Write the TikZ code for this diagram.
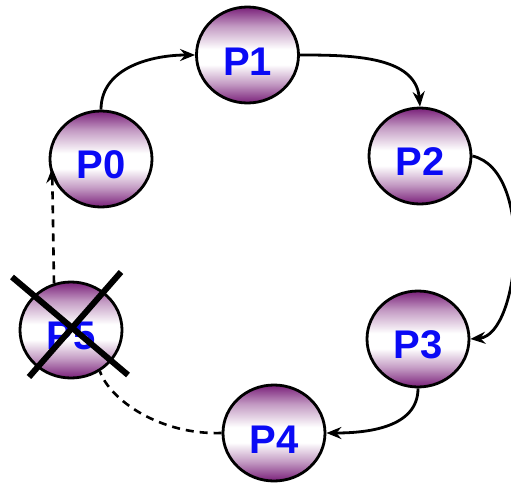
\documentclass[tikz,border=0pt]{standalone}
\usepackage{fontspec}
\setmainfont{Liberation Sans}
\usetikzlibrary{arrows.meta,shapes.geometric}
\definecolor{pp}{RGB}{122,32,122}
\definecolor{pblue}{RGB}{10,10,245}
\pgfdeclareverticalshading{procshade}{100bp}{color(0bp)=(pp); color(25bp)=(pp); color(35bp)=(pp!45); color(45bp)=(white); color(53bp)=(white); color(65bp)=(pp!45); color(75bp)=(pp); color(100bp)=(pp)}
\tikzset{
  proc/.style={ellipse, draw=black, line width=2.8pt, minimum width=102pt, minimum height=96pt,
    shading=procshade, inner sep=0pt},
  plabel/.style={font=\fontsize{40}{40}\selectfont\bfseries, text=pblue, inner sep=0pt},
  tip/.style={-{Stealth[length=15pt,width=12pt,inset=5pt]}},
  link/.style={line width=2.8pt, tip},
  dlink/.style={line width=2.6pt, dash pattern=on 8pt off 6pt},
  cross/.style={line width=6pt}
}
\begin{document}
\begin{tikzpicture}[x=1pt,y=-1pt]
\useasboundingbox (0,0) rectangle (511,482);
\node[proc] (p1) at (247.5,55) {};
\node[proc] (p0) at (101,159) {};
\node[proc] (p2) at (420,156) {};
\node[proc] (p3) at (418,339) {};
\node[proc] (p4) at (274,433) {};
\node[proc] (p5) at (71,330) {};
\node[plabel] (l1) at (247.5,62) {P1};
\node[plabel] (l0) at (101,165) {P0};
\node[plabel] (l2) at (420,162) {P2};
\node[plabel] (l3) at (418,345) {P3};
\node[plabel] (l4) at (274,440) {P4};
\node[plabel] (l5) at (71,336) {P5};
\draw[link] (p0.north) to[out=90,in=180] (p1.west);
\draw[link] (p1.east) to[out=0,in=95] (p2.north);
\draw[link] (p2.east) .. controls (535,170) and (520,335) .. (p3.east);
\draw[link] (p3.south) to[out=-90,in=0] (p4.east);
\draw[dlink] (p4.west) .. controls (160,435) and (110,400) .. (p5.-55);
\draw[dlink,tip] (p5.110) -- (p0.-160 |- 0,168);
\coordinate (c1) at (12,277);
\coordinate (c2) at (128,375);
\coordinate (c3) at (121,272);
\coordinate (c4) at (29,377);
\draw[cross] (c1) -- (c2);
\draw[cross] (c3) -- (c4);
\end{tikzpicture}
\end{document}
